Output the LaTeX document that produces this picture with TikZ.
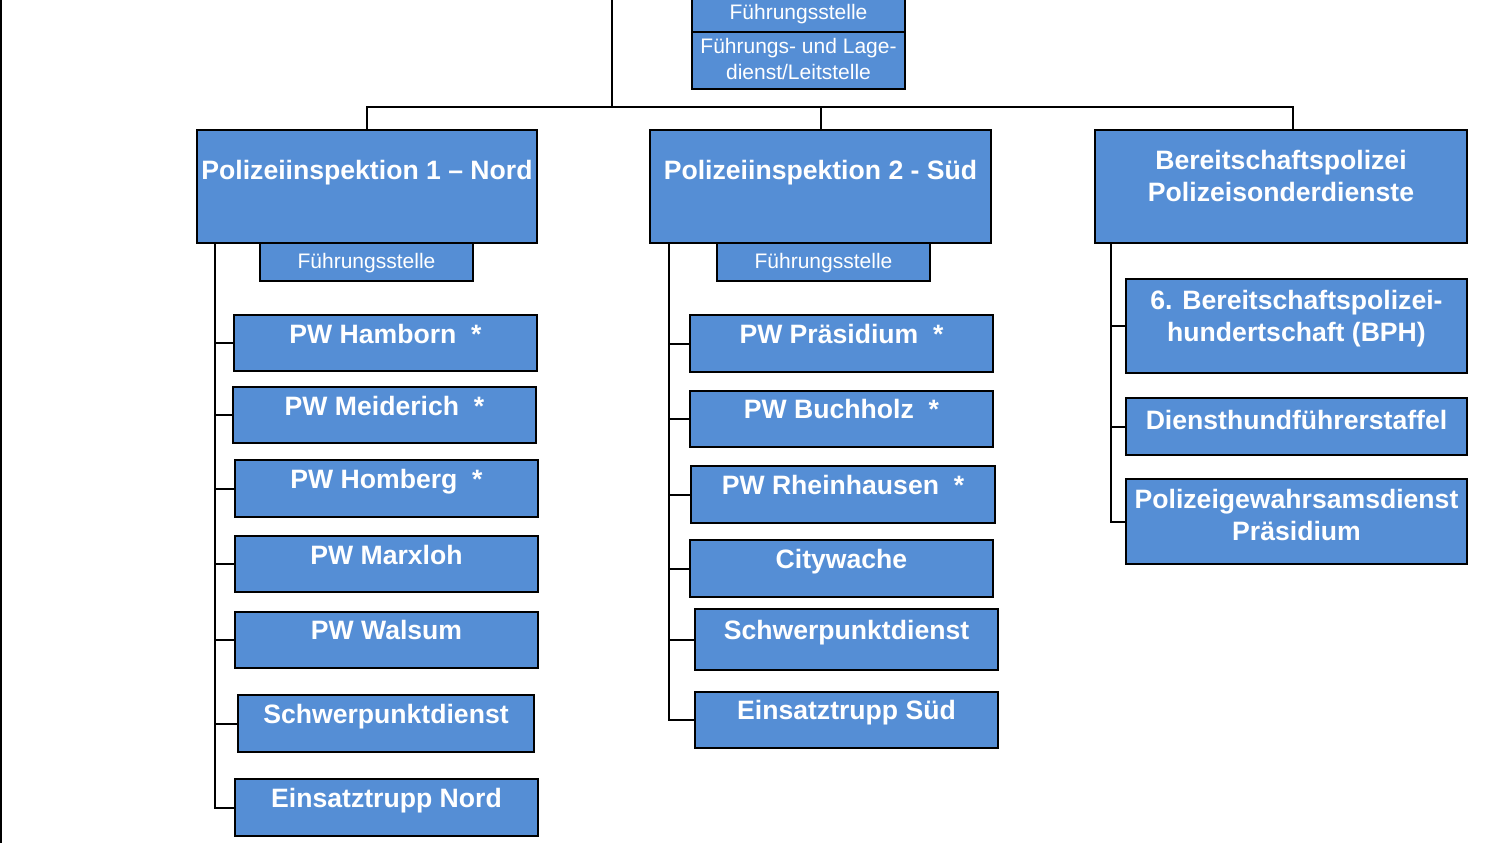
\documentclass[tikz,border=0pt]{standalone}
\usepackage{fontspec}
\newfontfamily\lib{Liberation Sans}
\newcommand\bfnt{\lib\bfseries\fontsize{26.6}{32.3}\selectfont}
\newcommand\rfnt{\lib\fontsize{21}{25}\selectfont}
\newcommand\twoline[2]{\vtop{\halign{\hfil##\hfil\cr#1\cr#2\cr}}}
\definecolor{boxblue}{RGB}{85,142,213}
\tikzset{
  box/.style={draw=black, line width=2pt, fill=boxblue, inner sep=0pt, outer sep=0pt,
    anchor=north west, text=white, font=\bfnt},
  sbox/.style={box, font=\rfnt},
  bx/.style n args={4}{minimum width=#1, minimum height=#2, text height=#3, text depth=#4},
  conn/.style={line width=2pt, draw=black},
}
\begin{document}
\begin{tikzpicture}[x=1pt,y=-1pt]
\fill[white] (0,0) rectangle (1491,843);
\useasboundingbox (0,0) rectangle (1491,843);
\clip (0,0) rectangle (1491,843);

% top
\node[sbox, bx={213pt}{38pt}{26pt}{12pt}] (fs0) at (692,-6) {Führungsstelle};
\node[sbox, bx={213pt}{57pt}{22pt}{35pt}] (fl) at (692,32) {\twoline{Führungs- und Lage-}{dienst/Leitstelle}};

% level 1
\node[box, bx={340pt}{113pt}{49pt}{64pt}] (pi1) at (197,130) {Polizeiinspektion 1 – Nord};
\node[box, bx={341pt}{113pt}{49pt}{64pt}] (pi2) at (650,130) {Polizeiinspektion 2 - Süd};
\node[box, bx={372pt}{113pt}{39.5pt}{73.5pt}] (bp) at (1095,130) {\twoline{Bereitschaftspolizei}{Polizeisonderdienste}};

\node[sbox, bx={213pt}{38pt}{25pt}{13pt}] (fs1) at (260,243) {Führungsstelle};
\node[sbox, bx={213pt}{38pt}{25pt}{13pt}] (fs2) at (717,243) {Führungsstelle};

% left column
\node[box, bx={303pt}{56pt}{28pt}{28pt}] (hamborn) at (234,315) {PW Hamborn\ \ *};
\node[box, bx={303pt}{56pt}{28pt}{28pt}] (meiderich) at (233,387) {PW Meiderich\ \ *};
\node[box, bx={303pt}{57pt}{28pt}{29pt}] (homberg) at (235,460) {PW Homberg\ \ *};
\node[box, bx={303pt}{56pt}{28pt}{28pt}] (marxloh) at (235,536) {PW Marxloh};
\node[box, bx={303pt}{56pt}{27pt}{29pt}] (walsum) at (235,612) {PW Walsum};
\node[box, bx={296pt}{57pt}{28pt}{29pt}] (schwerN) at (238,695) {Schwerpunktdienst};
\node[box, bx={303pt}{57pt}{28pt}{29pt}] (einN) at (235,779) {Einsatztrupp Nord};

% middle column
\node[box, bx={303pt}{57pt}{28pt}{29pt}] (praes) at (690,315) {PW Präsidium\ \ *};
\node[box, bx={303pt}{56pt}{27pt}{29pt}] (buch) at (690,391) {PW Buchholz\ \ *};
\node[box, bx={304pt}{57pt}{28pt}{29pt}] (rhein) at (691,466) {PW Rheinhausen\ \ *};
\node[box, bx={303pt}{57pt}{28pt}{29pt}] (city) at (690,540) {Citywache};
\node[box, bx={303pt}{61pt}{30pt}{31pt}] (schwerS) at (695,609) {Schwerpunktdienst};
\node[box, bx={303pt}{56pt}{27pt}{29pt}] (einS) at (695,692) {Einsatztrupp Süd};

% right column
\node[box, bx={341pt}{94pt}{30pt}{64pt}] (bph) at (1126,279) {\twoline{6. Bereitschaftspolizei-}{hundertschaft (BPH)}};
\node[box, bx={341pt}{57pt}{31pt}{26pt}] (dhf) at (1126,398) {Diensthundführerstaffel};
\node[box, bx={341pt}{85pt}{29pt}{56pt}] (pgd) at (1126,479) {\twoline{Polizeigewahrsamsdienst}{Präsidium}};

% connectors
\coordinate (lb1) at (1,0);
\coordinate (lb2) at (1,843);
\draw[conn] (lb1) -- (lb2);

\coordinate (topc) at (612,0);
\coordinate (j) at (612,107);
\draw[conn] (topc) -- (j);
\draw[conn] (pi1.north) |- (j) -| ([xshift=12pt]bp.north);
\draw[conn] (pi2.north) -- (pi2.north |- j);

\coordinate (spL) at ([xshift=18pt]pi1.south west);
\coordinate (spM) at ([xshift=19pt]pi2.south west);
\coordinate (spR) at ([xshift=16pt]bp.south west);

\draw[conn] (spL) |- (einN.west);
\foreach \n in {hamborn,meiderich,homberg,marxloh,walsum,schwerN}
  \draw[conn] (\n.west) -- (\n.west -| spL);

\draw[conn] (spM) |- (einS.west);
\foreach \n in {praes,buch,rhein,city,schwerS}
  \draw[conn] (\n.west) -- (\n.west -| spM);

\draw[conn] (spR) |- (pgd.west);
\foreach \n in {bph,dhf}
  \draw[conn] (\n.west) -- (\n.west -| spR);
\end{tikzpicture}
\end{document}
